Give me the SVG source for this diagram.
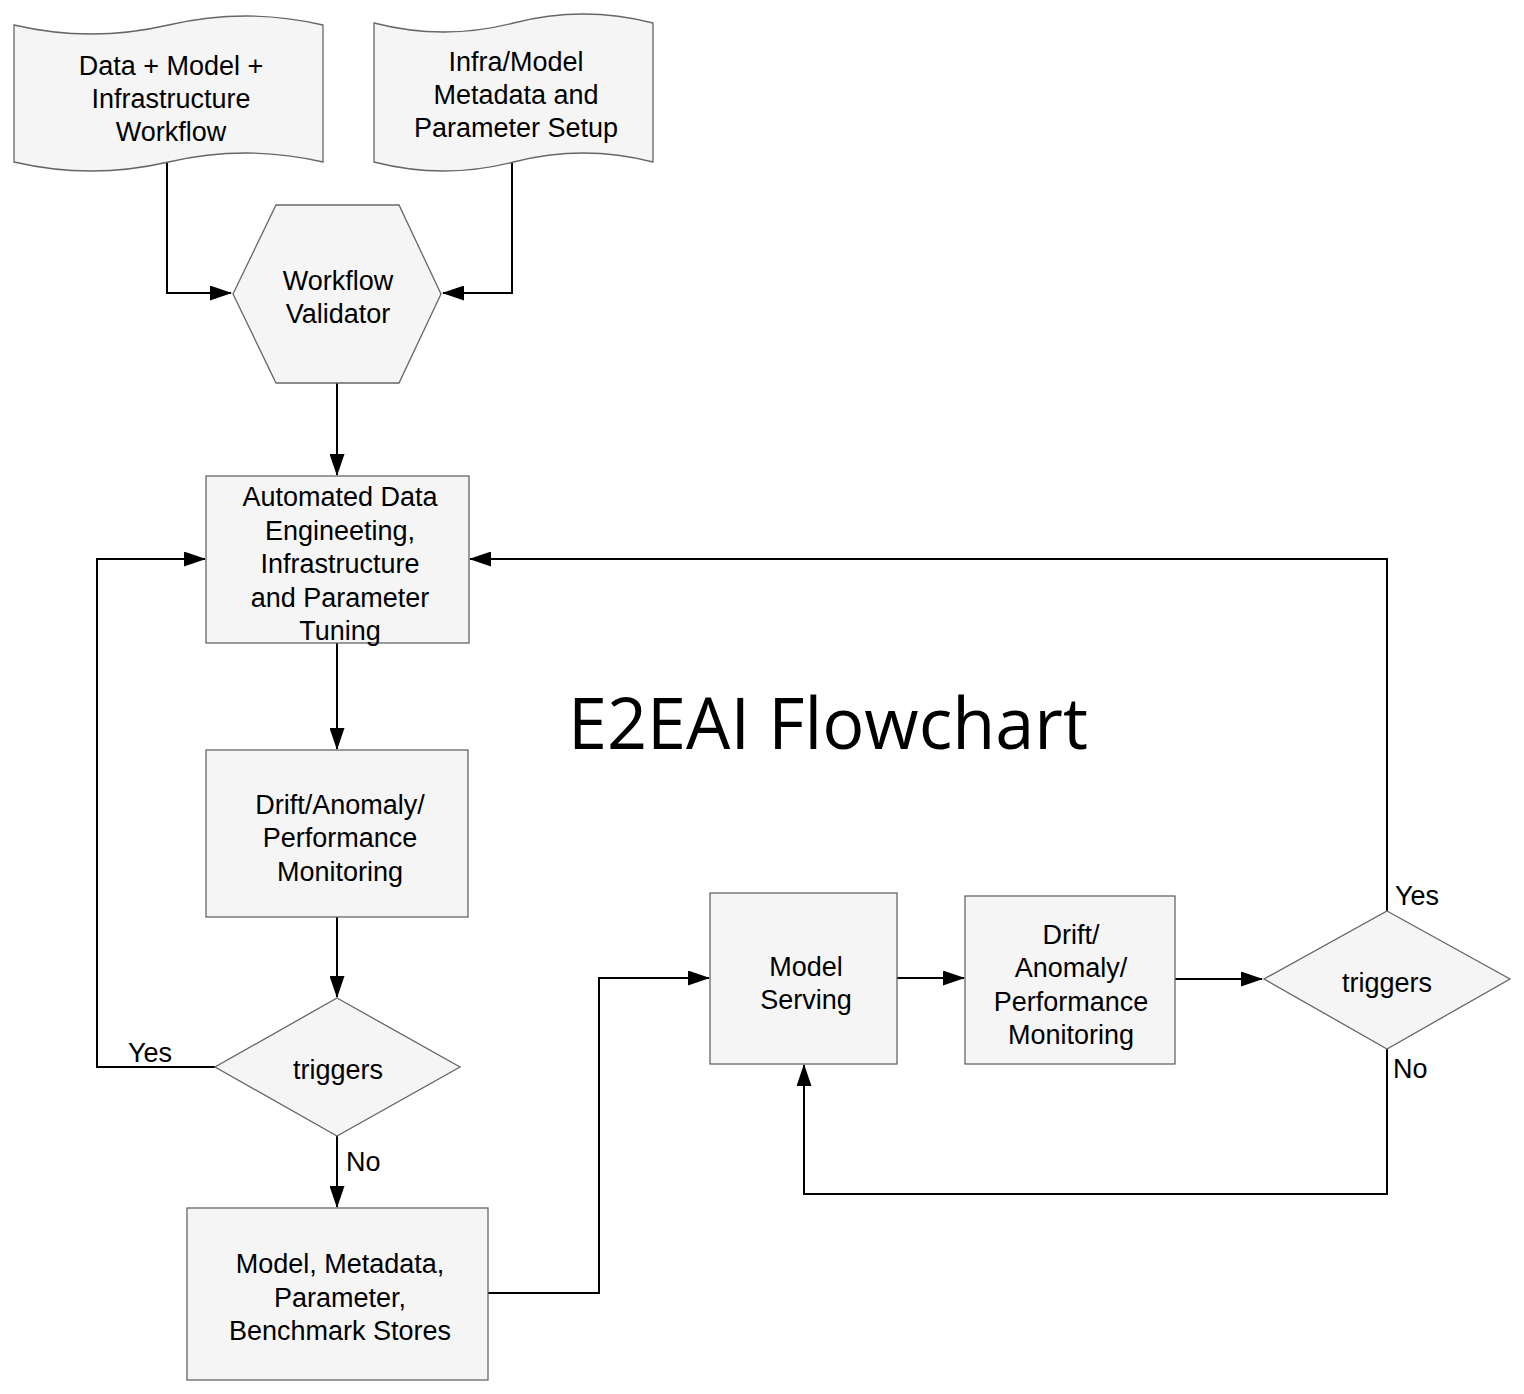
<svg xmlns="http://www.w3.org/2000/svg" width="1524" height="1394" viewBox="0 0 1524 1394">
  <style>
    .shape { fill: #f5f5f5; stroke: #666666; stroke-width: 1.3; }
    .lbl { font-family: "Liberation Sans", Arial, Helvetica, sans-serif; font-size: 27px; fill: #000000; text-anchor: middle; }
    .edge-lbl { font-family: "Liberation Sans", Arial, Helvetica, sans-serif; font-size: 27px; fill: #000000; }
    .conn { fill: none; stroke: #000000; stroke-width: 2; }
    .title { font-family: "Open Sans", "Noto Sans", sans-serif; font-size: 71px; fill: #000000; }
  </style>
  <defs>
    <marker id="arrow" viewBox="0 0 22 15" refX="21" refY="7.5" markerWidth="22" markerHeight="15" markerUnits="userSpaceOnUse" orient="auto">
      <path d="M0,0 L22,7.5 L0,15 Z" fill="#000000"/>
    </marker>
  </defs>
  <rect x="0" y="0" width="1524" height="1394" fill="#ffffff"/>

  <g id="connectors">
    <path class="conn" d="M167,163 V293 H231" marker-end="url(#arrow)"/>
    <path class="conn" d="M512,163 V293 H443" marker-end="url(#arrow)"/>
    <path class="conn" d="M337,383 V475" marker-end="url(#arrow)"/>
    <path class="conn" d="M337,643 V749" marker-end="url(#arrow)"/>
    <path class="conn" d="M337,917 V997" marker-end="url(#arrow)"/>
    <path class="conn" d="M215,1067 H97 V559 H205" marker-end="url(#arrow)"/>
    <path class="conn" d="M337,1136 V1207" marker-end="url(#arrow)"/>
    <path class="conn" d="M488,1293 H599 V978 H709" marker-end="url(#arrow)"/>
    <path class="conn" d="M897,978 H964" marker-end="url(#arrow)"/>
    <path class="conn" d="M1175,979 H1262" marker-end="url(#arrow)"/>
    <path class="conn" d="M1387,911 V559 H470" marker-end="url(#arrow)"/>
    <path class="conn" d="M1387,1049 V1194 H804 V1065" marker-end="url(#arrow)"/>
    <text class="edge-lbl" x="128" y="1062">Yes</text>
    <text class="edge-lbl" x="346" y="1171">No</text>
    <text class="edge-lbl" x="1395" y="905">Yes</text>
    <text class="edge-lbl" x="1393" y="1078">No</text>
  </g>

  <g id="doc-workflow">
    <path class="shape" d="M14,25 Q91,43 168.5,25 Q246,7 323,25 L323,162 Q245.75,144 168.5,162 Q91,180 14,162 Z"/>
    <text class="lbl" x="171" y="75">Data + Model +</text>
    <text class="lbl" x="171" y="108">Infrastructure</text>
    <text class="lbl" x="171" y="141">Workflow</text>
  </g>

  <g id="doc-metadata">
    <path class="shape" d="M374,23 Q443.75,41 513.5,23 Q583.25,5 653,23 L653,162 Q583.25,144 513.5,162 Q443.75,180 374,162 Z"/>
    <text class="lbl" x="516" y="71">Infra/Model</text>
    <text class="lbl" x="516" y="104">Metadata and</text>
    <text class="lbl" x="516" y="137">Parameter Setup</text>
  </g>

  <g id="workflow-validator">
    <polygon class="shape" points="233,294 276,205 399,205 441,294 399,383 276,383"/>
    <text class="lbl" x="338" y="290">Workflow</text>
    <text class="lbl" x="338" y="323">Validator</text>
  </g>

  <g id="automated-data-engineering">
    <rect class="shape" x="206" y="476" width="263" height="167"/>
    <text class="lbl" x="340" y="506">Automated Data</text>
    <text class="lbl" x="340" y="540">Engineeting,</text>
    <text class="lbl" x="340" y="573">Infrastructure</text>
    <text class="lbl" x="340" y="607">and Parameter</text>
    <text class="lbl" x="340" y="640">Tuning</text>
  </g>

  <g id="monitoring-1">
    <rect class="shape" x="206" y="750" width="262" height="167"/>
    <text class="lbl" x="340" y="814">Drift/Anomaly/</text>
    <text class="lbl" x="340" y="847">Performance</text>
    <text class="lbl" x="340" y="881">Monitoring</text>
  </g>

  <g id="triggers-1">
    <polygon class="shape" points="337,998 460,1067 337,1136 215,1067"/>
    <text class="lbl" x="338" y="1079">triggers</text>
  </g>

  <g id="stores">
    <rect class="shape" x="187" y="1208" width="301" height="172"/>
    <text class="lbl" x="340" y="1273">Model, Metadata,</text>
    <text class="lbl" x="340" y="1307">Parameter,</text>
    <text class="lbl" x="340" y="1340">Benchmark Stores</text>
  </g>

  <g id="model-serving">
    <rect class="shape" x="710" y="893" width="187" height="171"/>
    <text class="lbl" x="806" y="976">Model</text>
    <text class="lbl" x="806" y="1009">Serving</text>
  </g>

  <g id="monitoring-2">
    <rect class="shape" x="965" y="896" width="210" height="168"/>
    <text class="lbl" x="1071" y="944">Drift/</text>
    <text class="lbl" x="1071" y="977">Anomaly/</text>
    <text class="lbl" x="1071" y="1011">Performance</text>
    <text class="lbl" x="1071" y="1044">Monitoring</text>
  </g>

  <g id="triggers-2">
    <polygon class="shape" points="1387,911 1510,979 1387,1049 1264,979"/>
    <text class="lbl" x="1387" y="992">triggers</text>
  </g>

  <g id="title">
    <text class="title" x="568" y="749" textLength="520" lengthAdjust="spacingAndGlyphs">E2EAI Flowchart</text>
  </g>
</svg>
